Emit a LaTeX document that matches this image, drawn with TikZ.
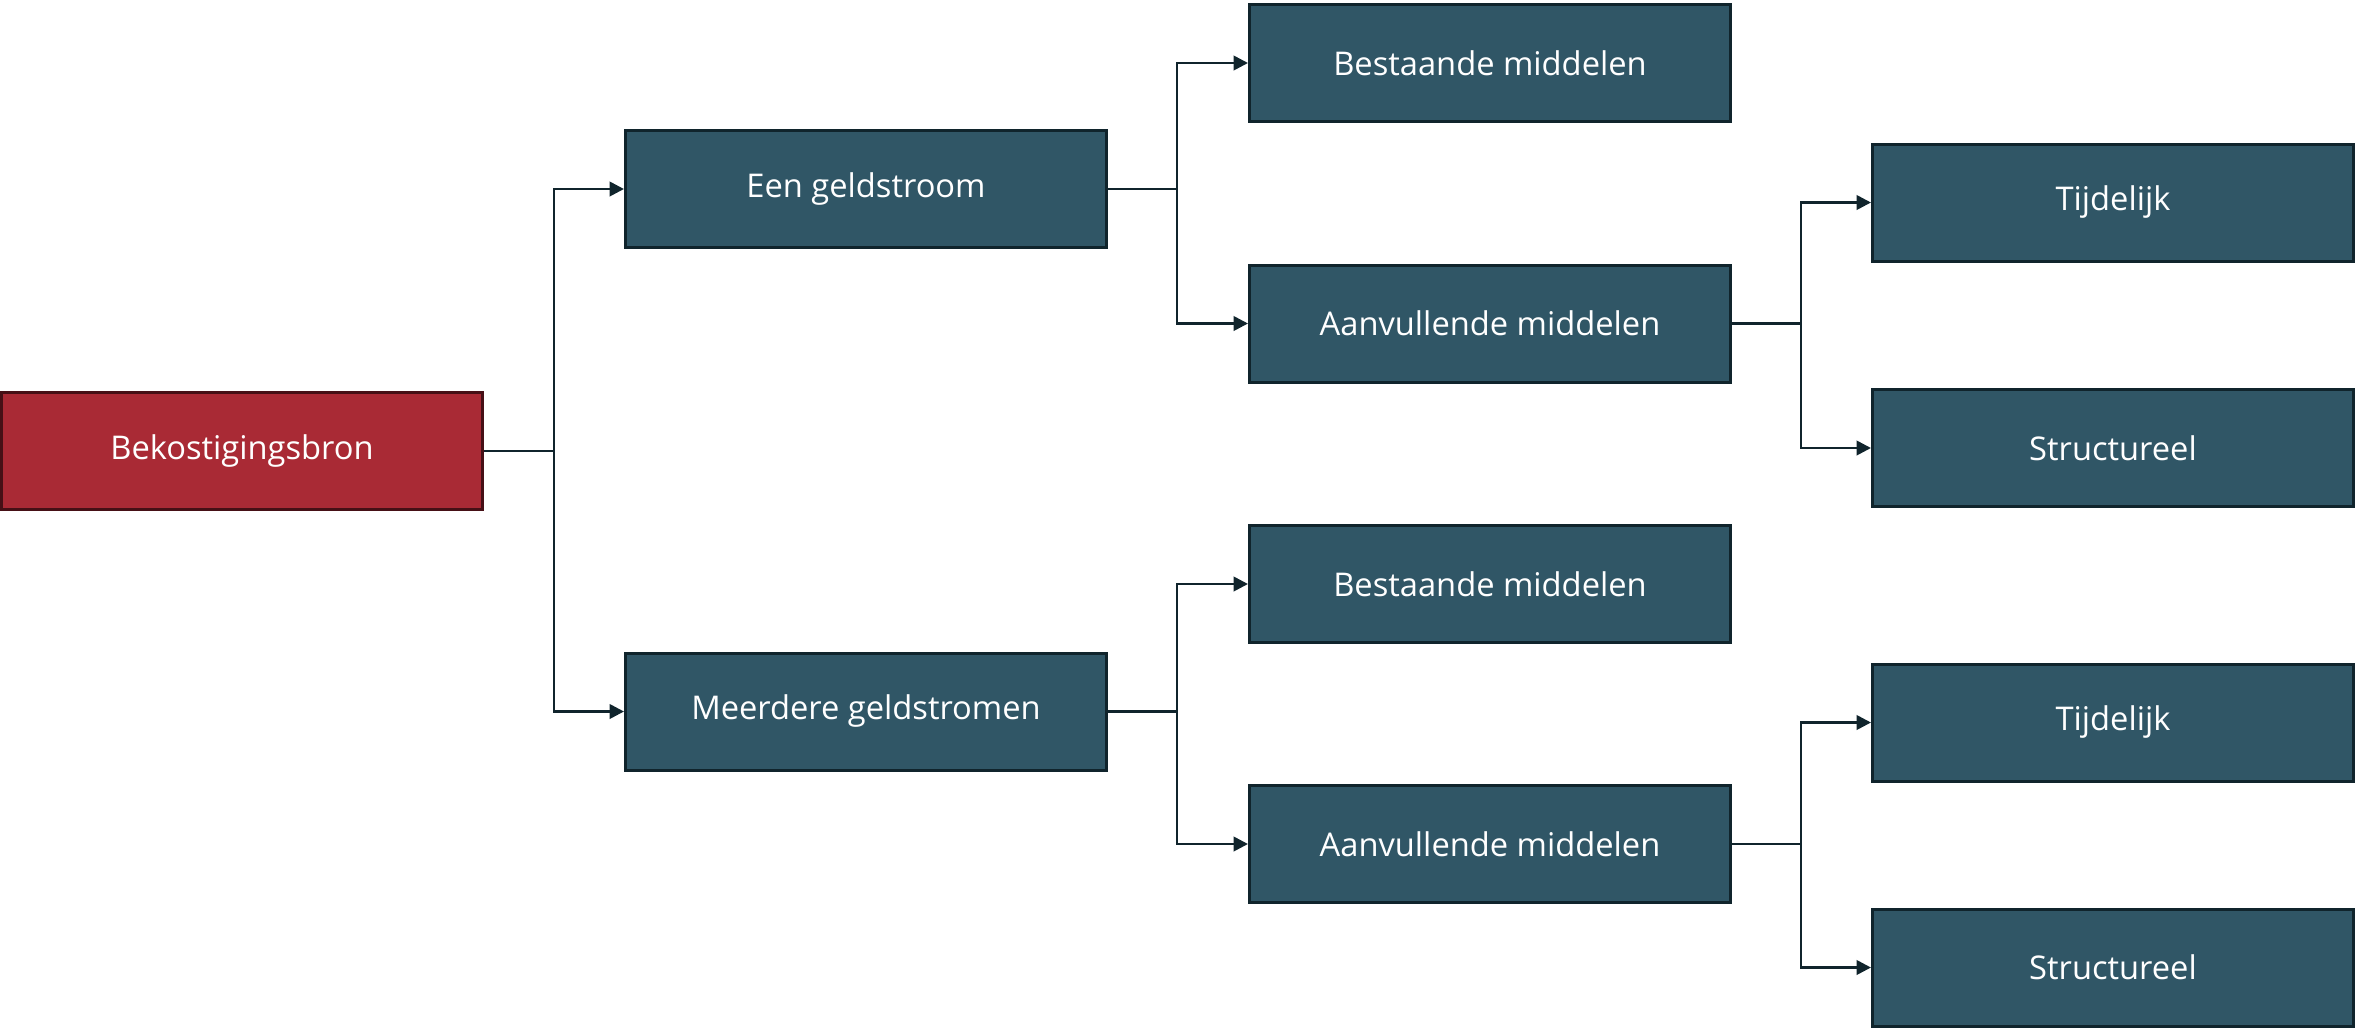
\documentclass[tikz,border=0pt]{standalone}
\usepackage{fontspec}
\setmainfont{Open Sans}
\usetikzlibrary{arrows.meta}
\definecolor{tealfill}{RGB}{48,86,102}
\definecolor{tealline}{RGB}{16,36,44}
\definecolor{redfill}{RGB}{169,42,53}
\definecolor{redline}{RGB}{70,16,22}
\begin{document}
\begin{tikzpicture}[x=0.3pt,y=-0.3pt,
  box/.style={draw=tealline,fill=tealfill,line width=0.9pt,minimum width=144.3pt,minimum height=35.1pt,inner sep=0pt,text=white,font=\fontsize{9.8}{12}\selectfont},
  rootbox/.style={box,draw=redline,fill=redfill},
  conn/.style={draw=tealline,line width=0.8pt},
  arr/.style={conn,-{Triangle[length=4.3pt,width=4.3pt]}}]
\useasboundingbox (0,0) rectangle (2357,1031);
\node[rootbox] (bek) at (242,451) {Bekostigingsbron};
\node[box] (een) at (866,189) {Een geldstroom};
\node[box] (meer) at (866,711.5) {Meerdere geldstromen};
\node[box] (b1) at (1490,63) {Bestaande middelen};
\node[box] (a1) at (1490,323.5) {Aanvullende middelen};
\node[box] (t1) at (2113,202.5) {Tijdelijk};
\node[box] (s1) at (2113,448) {Structureel};
\node[box] (b2) at (1490,584) {Bestaande middelen};
\node[box] (a2) at (1490,844) {Aanvullende middelen};
\node[box] (t2) at (2113,722.5) {Tijdelijk};
\node[box] (s2) at (2113,967.5) {Structureel};
\coordinate (j0) at (554,451);
\coordinate (j1) at (1177,189);
\coordinate (j2) at (1177,711.5);
\coordinate (j3) at (1801,323.5);
\coordinate (j4) at (1801,844);
\draw[conn] (bek.east) -- (j0);
\draw[arr] (j0) |- (een.west);
\draw[arr] (j0) |- (meer.west);
\draw[conn] (een.east) -- (j1);
\draw[arr] (j1) |- (b1.west);
\draw[arr] (j1) |- (a1.west);
\draw[conn] (meer.east) -- (j2);
\draw[arr] (j2) |- (b2.west);
\draw[arr] (j2) |- (a2.west);
\draw[conn] (a1.east) -- (j3);
\draw[arr] (j3) |- (t1.west);
\draw[arr] (j3) |- (s1.west);
\draw[conn] (a2.east) -- (j4);
\draw[arr] (j4) |- (t2.west);
\draw[arr] (j4) |- (s2.west);
\end{tikzpicture}
\end{document}
